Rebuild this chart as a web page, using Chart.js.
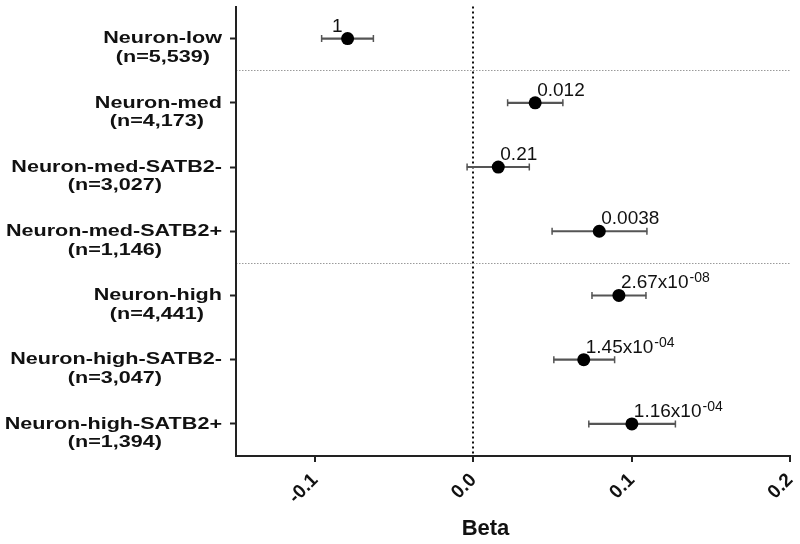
<!DOCTYPE html>
<html>
<head>
<meta charset="utf-8">
<script src="https://cdn.jsdelivr.net/npm/chart.js@4.4.1/dist/chart.umd.min.js"></script>
<style>
  html, body { margin: 0; padding: 0; background: #fff; }
  canvas { display: block; }
</style>
</head>
<body>
<canvas id="forest" width="800" height="544"></canvas>
<script>
const FONT = "'Liberation Sans', Arial, sans-serif";

// groups, top to bottom
const categories = ['Neuron-low', 'Neuron-med', 'Neuron-med-SATB2-', 'Neuron-med-SATB2+',
                    'Neuron-high', 'Neuron-high-SATB2-', 'Neuron-high-SATB2+'];
const sampleSizes = ['(n=5,539)', '(n=4,173)', '(n=3,027)', '(n=1,146)',
                     '(n=4,441)', '(n=3,047)', '(n=1,394)'];

// beta estimates and confidence interval ends
const betas  = [-0.0795, 0.0390, 0.0157, 0.0795, 0.0919, 0.0697, 0.1001];
const ciLow  = [-0.0959, 0.0216, -0.0040, 0.0497, 0.0749, 0.0508, 0.0729];
const ciHigh = [-0.0632, 0.0565, 0.0353, 0.1096, 0.1090, 0.0892, 0.1276];

// p-values (mantissa + superscript exponent)
const pValues    = ['1', '0.012', '0.21', '0.0038', '2.67x10', '1.45x10', '1.16x10'];
const pExponents = ['', '', '', '', '-08', '-04', '-04'];

// rows where a new group starts (dotted separators above them)
const groupStarts = [1, 4];

const xTicks = [-0.1, 0.0, 0.1, 0.2];
const xMin = -0.15, xMax = 0.2;

// pad the n= line so it sits centred under the right-aligned name
const measureCtx = document.createElement('canvas').getContext('2d');
function centeredLine(top, bottom) {
    measureCtx.font = 'bold 17px ' + FONT;
    const gap = (measureCtx.measureText(top).width - measureCtx.measureText(bottom).width) / 2;
    const n = Math.max(0, Math.round(gap / measureCtx.measureText(' ').width));
    return bottom + ' '.repeat(n);
}

const pValueLabels = {
    id: 'pValueLabels',
    afterDatasetsDraw(chart) {
        const c = chart.ctx;
        const pts = chart.getDatasetMeta(0).data;
        c.save();
        c.fillStyle = '#111';
        c.textBaseline = 'alphabetic';
        pts.forEach((pt, i) => {
            const y = pt.y - 7;
            c.font = '19px ' + FONT;
            if (i === 0) {
                c.textAlign = 'right';
                c.fillText(pValues[i], pt.x - 5, y);
                return;
            }
            c.textAlign = 'left';
            const x = pt.x + 2;
            c.fillText(pValues[i], x, y);
            if (pExponents[i]) {
                const w = c.measureText(pValues[i]).width;
                c.font = '14px ' + FONT;
                c.fillText(pExponents[i], x + w + 1, y - 6);
            }
        });
        c.restore();
        // the y tick labels (drawn next, z=1) are wide in the original
        const x0 = chart.scales.y.right - 14;
        c.save();
        c.translate(x0, 0);
        c.scale(1.27, 1);
        c.translate(-x0, 0);
    },
    afterDraw(chart) {
        chart.ctx.restore();
    }
};

const ctx = document.getElementById('forest').getContext('2d');
const forestChart = new Chart(ctx, {
    type: 'bar',
    data: {
        labels: categories,
        datasets: [
            {
                type: 'line',
                label: 'Beta',
                data: betas,
                indexAxis: 'y',
                showLine: false,
                pointRadius: 6.5,
                pointHoverRadius: 6.5,
                pointBackgroundColor: '#000',
                pointBorderWidth: 0,
                xAxisID: 'x',
                yAxisID: 'y'
            },
            {
                type: 'line',
                data: ciLow,
                indexAxis: 'y',
                showLine: false,
                pointStyle: 'line',
                pointRotation: 90,
                pointRadius: 3.5,
                pointHoverRadius: 3.5,
                pointBorderColor: '#555',
                pointBorderWidth: 1.5,
                xAxisID: 'x',
                yAxisID: 'y'
            },
            {
                type: 'line',
                data: ciHigh,
                indexAxis: 'y',
                showLine: false,
                pointStyle: 'line',
                pointRotation: 90,
                pointRadius: 3.5,
                pointHoverRadius: 3.5,
                pointBorderColor: '#555',
                pointBorderWidth: 1.5,
                xAxisID: 'x',
                yAxisID: 'y'
            },
            {
                type: 'bar',
                data: categories.map((c, i) => [ciLow[i], ciHigh[i]]),
                backgroundColor: '#555',
                borderWidth: 0,
                barThickness: 1.5,
                xAxisID: 'x',
                yAxisID: 'y'
            }
        ]
    },
    options: {
        indexAxis: 'y',
        responsive: false,
        animation: false,
        layout: { padding: { top: 5, right: 10, left: 0, bottom: 0 } },
        plugins: {
            legend: { display: false },
            tooltip: { enabled: false }
        },
        scales: {
            x: {
                type: 'linear',
                position: 'bottom',
                min: xMin,
                max: xMax,
                afterBuildTicks: (s) => { s.ticks = xTicks.map(v => ({ value: v })); },
                afterFit: (s) => { s.height = 88; s.paddingLeft = 0; s.paddingRight = 0; },
                ticks: {
                    autoSkip: false,
                    minRotation: 45,
                    maxRotation: 45,
                    padding: 7,
                    color: '#111',
                    font: { family: FONT, size: 19, weight: 'bold' },
                    callback: (v) => (Math.abs(v) < 1e-9 ? 0 : v).toFixed(1)
                },
                grid: {
                    color: (c) => (c.tick && Math.abs(c.tick.value) < 1e-9) ? '#111' : 'rgba(0,0,0,0)',
                    lineWidth: 2,
                    tickColor: '#222',
                    tickWidth: 2,
                    tickLength: 6
                },
                border: { color: '#222', width: 2, dash: [2, 3] },
                title: {
                    display: true,
                    text: 'Beta' + ' '.repeat(9),
                    color: '#111',
                    font: { family: FONT, size: 22, weight: 'bold' },
                    padding: { top: 0, bottom: 2 }
                }
            },
            y: {
                type: 'category',
                position: 'left',
                offset: true,
                afterFit: (s) => { s.width = 236; s.paddingTop = 0; s.paddingBottom = 0; },
                grid: {
                    offset: false,
                    drawOnChartArea: false,
                    drawTicks: true,
                    tickLength: 6,
                    tickColor: '#222',
                    tickWidth: 2
                },
                border: { color: '#222', width: 2 },
                ticks: {
                    z: 1,
                    autoSkip: false,
                    padding: 8,
                    color: '#111',
                    font: { family: FONT, size: 17, weight: 'bold', lineHeight: 1.1 },
                    callback: (v, i) => ['', categories[i], centeredLine(categories[i], sampleSizes[i])]
                }
            },
            y2: {
                type: 'linear',
                position: 'left',
                reverse: true,
                offset: false,
                min: -0.5,
                max: categories.length - 0.5,
                afterBuildTicks: (s) => { s.ticks = groupStarts.map(i => ({ value: i - 0.5 })); },
                afterFit: (s) => { s.width = 0; s.paddingTop = 0; s.paddingBottom = 0; },
                ticks: { display: false },
                grid: { offset: false, color: '#9a9a9a', lineWidth: 1, drawTicks: false },
                border: { display: false, dash: [1.5, 1.5] }
            }
        }
    },
    plugins: [pValueLabels]
});
</script>
</body>
</html>
